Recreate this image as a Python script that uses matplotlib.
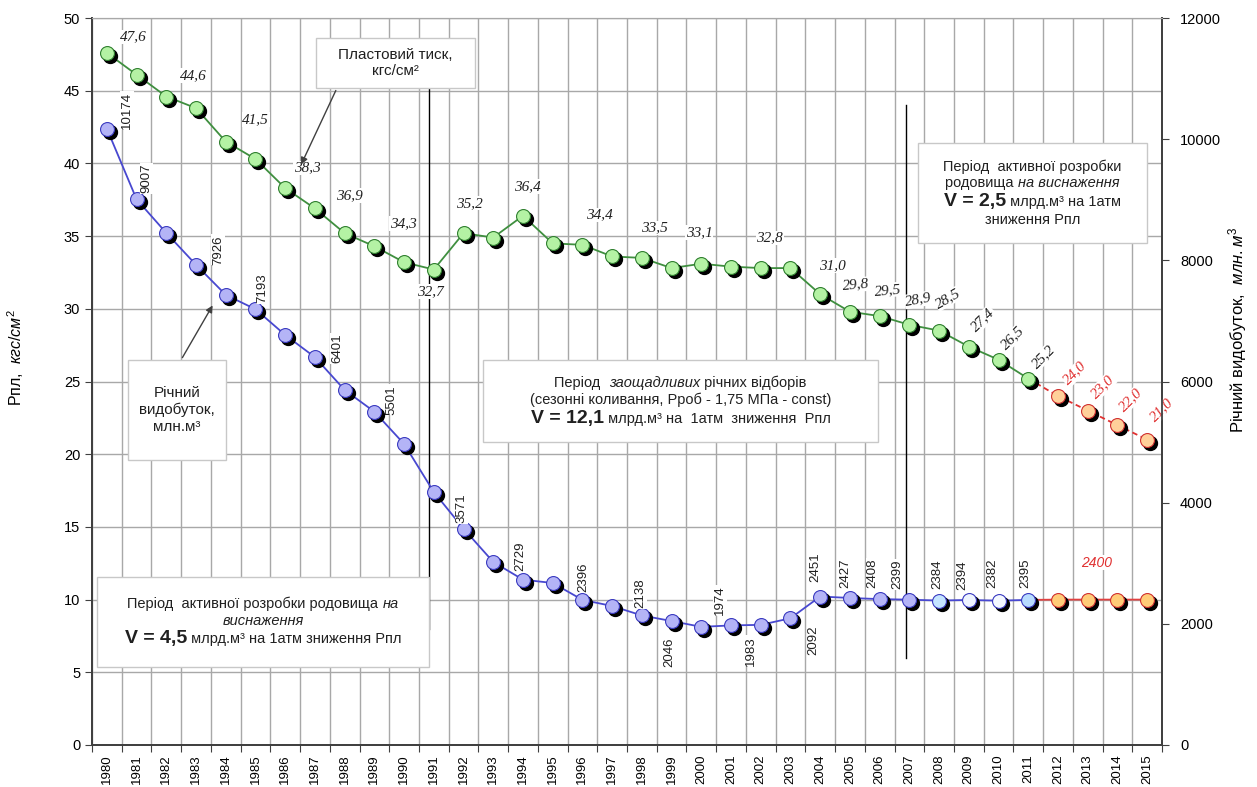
import numpy as np
import matplotlib
matplotlib.use("Agg")
import matplotlib.pyplot as plt
from matplotlib import transforms
from matplotlib.patches import Rectangle
from matplotlib.offsetbox import TextArea, HPacker, VPacker, AnnotationBbox

plt.rcParams["font.family"] = ["Liberation Sans", "DejaVu Sans"]
plt.rcParams["mathtext.fontset"] = "custom"
plt.rcParams["mathtext.rm"] = "Liberation Sans"
plt.rcParams["mathtext.it"] = "Liberation Sans:italic"
plt.rcParams["mathtext.bf"] = "Liberation Sans:bold"

# ---- data ----
years = list(range(1980, 2016))
pressure = [47.6, 46.1, 44.6, 43.8, 41.5, 40.3, 38.3, 36.9, 35.2, 34.3, 33.2, 32.7,
            35.2, 34.9, 36.4, 34.5, 34.4, 33.6, 33.5, 32.8, 33.1, 32.9, 32.8, 32.8,
            31.0, 29.8, 29.5, 28.9, 28.5, 27.4, 26.5, 25.2, 24.0, 23.0, 22.0, 21.0]
production = [10174, 9007, 8452, 7926, 7430, 7193, 6768, 6401, 5860, 5501, 4969, 4176,
              3571, 3021, 2729, 2674, 2396, 2294, 2138, 2046, 1950, 1974, 1983, 2092,
              2451, 2427, 2408, 2399, 2384, 2394, 2382, 2395, 2400, 2400, 2400, 2400]
forecast_start = 2011

# labelled points: year -> (dx, dy in pixels, rotation)
p_labels = {1980: (26, 16, 0), 1982: (27, 21, 0), 1984: (30, 22, 0), 1986: (22, 20, 0),
            1987: (34, 13, 0), 1989: (29, 23, 0), 1991: (-3, -22, 0), 1992: (6, 30, 0),
            1994: (4, 29, 0), 1996: (17, 30, 0), 1998: (13, 30, 0), 2000: (-2, 31, 0),
            2002: (9, 30, 0), 2004: (12, 29, 0), 2005: (6, 27, 5), 2006: (8, 26, 5),
            2007: (9, 25, 10), 2008: (9, 32, 30), 2009: (14, 27, 45), 2010: (14, 22, 45),
            2011: (15, 22, 45), 2012: (17, 23, 45), 2013: (15, 24, 45), 2014: (13, 25, 45),
            2015: (15, 30, 45)}
q_labels = {1980: (20, 18), 1981: (10, 21), 1983: (22, 15), 1985: (7, 21), 1987: (22, 9),
            1989: (17, 12), 1992: (-2, 20), 1994: (-3, 23), 1996: (1, 23), 1998: (-2, 22),
            1999: (-2, -31), 2001: (-11, 25), 2002: (-10, -26), 2003: (23, -22),
            2004: (-5, 29), 2005: (-5, 25), 2006: (-7, 26), 2007: (-12, 25), 2008: (-2, 26),
            2009: (-6, 25), 2010: (-6, 27), 2011: (-3, 27)}

x = np.arange(len(years))
fc = years.index(forecast_start)

fig = plt.figure(figsize=(12.57, 7.87), dpi=100)
ax = fig.add_axes([92 / 1257, 42 / 787, 1070 / 1257, 727 / 787])
ax2 = ax.twinx()

ax.set_xlim(-0.5, len(years) - 0.5)
ax.set_ylim(0, 50)
ax2.set_ylim(0, 12000)

ax.set_xticks(np.arange(-0.5, len(years), 1))
ax.set_xticklabels([])
ax.set_xticks(x, minor=True)
ax.set_xticklabels([str(y) for y in years], minor=True, rotation=90, fontsize=9.5)
ax.tick_params(axis="x", which="major", direction="out", length=5, color="#404040")
ax.tick_params(axis="x", which="minor", length=0, pad=7)
ax.set_yticks(np.arange(0, 51, 5))
ax.tick_params(axis="y", direction="out", length=5, labelsize=10.5, color="#404040")
ax2.set_yticks(np.arange(0, 12001, 2000))
ax2.tick_params(axis="y", direction="out", length=5, labelsize=10.5, color="#404040", pad=8)
ax.grid(True, which="major", color="#a8a8a8", lw=1)
ax.set_axisbelow(True)

for a in (ax, ax2):
    for s in ("left", "right", "bottom"):
        a.spines[s].set_color("#404040")
        a.spines[s].set_linewidth(1.3)
    a.spines["top"].set_color("#a8a8a8")

shadow_p = transforms.offset_copy(ax.transData, fig=fig, x=3, y=-3, units="dots")
shadow_q = transforms.offset_copy(ax2.transData, fig=fig, x=3, y=-3, units="dots")

# pressure
ax.plot(x[:fc + 1], pressure[:fc + 1], color="#3f8f3f", lw=1.3, zorder=2)
ax.plot(x[fc:], pressure[fc:], color="#e03030", lw=1.3, ls=(0, (3, 2)), zorder=2)
ax.plot(x, pressure, "o", ms=10, color="black", transform=shadow_p, zorder=3)
ax.plot(x[:fc + 1], pressure[:fc + 1], "o", ms=10, mfc="#b4f2a4", mec="#2f7f2f", mew=0.8, zorder=4)
ax.plot(x[fc + 1:], pressure[fc + 1:], "o", ms=10, mfc="#ffd09a", mec="#d03030", mew=0.8, zorder=4)

# production
q_colors = ["#b4b4f6"] * 28 + ["#c4e4ff", "#eef4ff", "#f4f8ff", "#b8dcff"] + ["#ffcc78"] * 4
ax2.plot(x[:fc + 1], production[:fc + 1], color="#4848d0", lw=1.3, zorder=2)
ax2.plot(x[fc:], production[fc:], color="#e04040", lw=1.3, zorder=2)
ax2.plot(x, production, "o", ms=10, color="black", transform=shadow_q, zorder=3)
for xi, qi, c in zip(x, production, q_colors):
    ec = "#d03030" if xi > fc else "#3a3ac0"
    ax2.plot(xi, qi, "o", ms=10, mfc=c, mec=ec, mew=0.8, zorder=4)

for yr, (dx, dy, rot) in p_labels.items():
    i = years.index(yr)
    col = "#e03030" if i > fc else "#202020"
    ax.annotate(f"{pressure[i]:.1f}".replace(".", ","), (i, pressure[i]), xytext=(dx, dy),
                textcoords="offset pixels", ha="center", va="center", rotation=rot,
                fontsize=11, color=col, family="Liberation Serif", style="italic",
                bbox=dict(fc="white", ec="none", pad=0.5), zorder=5)

for yr, (dx, dy) in q_labels.items():
    i = years.index(yr)
    ax2.annotate(str(production[i]), (i, production[i]), xytext=(dx, dy),
                 textcoords="offset pixels", ha="center", va="center", rotation=90,
                 fontsize=9.5, color="#202020",
                 bbox=dict(fc="white", ec="none", pad=0.5), zorder=5)
ax2.annotate("2400", (years.index(2013), 2400), xytext=(9, 37), textcoords="offset pixels",
             ha="center", va="center", fontsize=10, color="#e03030", style="italic",
             bbox=dict(fc="white", ec="none", pad=0.5), zorder=5)

# period separators
ax.plot([10.84, 10.84], [8.0, 45.1], color="black", lw=1, zorder=2)
ax.plot([26.89, 26.89], [6.0, 44.0], color="black", lw=1, zorder=2)


def at(px, py):
    return ((px - 92) / 1070, (745 - py) / 727)


def note(rect, lines, sep=2):
    (x0, y0), (x1, y1) = at(rect[0], rect[3]), at(rect[2], rect[1])
    ax2.add_patch(Rectangle((x0, y0), x1 - x0, y1 - y0, transform=ax2.transAxes,
                            fc="white", ec="#c8c8c8", lw=1, zorder=6))
    rows = []
    for line in lines:
        parts = [TextArea(s, textprops=dict(fontsize=fs, fontweight=w, fontstyle=st, color="#202020"))
                 for s, fs, w, st in line]
        rows.append(HPacker(children=parts, align="baseline", pad=0, sep=0))
    box = VPacker(children=rows, align="center", pad=0, sep=sep)
    ab = AnnotationBbox(box, ((x0 + x1) / 2, (y0 + y1) / 2), xycoords=ax2.transAxes,
                        frameon=False, zorder=7)
    ax2.add_artist(ab)


n, b, i_ = "normal", "bold", "italic"
note((316, 38, 475, 88), [[("Пластовий тиск,", 11, n, n)], [("кгс/см²", 11, n, n)]])
note((128, 360, 226, 460), [[("Річний", 11, n, n)], [("видобуток,", 11, n, n)],
                            [("млн.м³", 11, n, n)]])
note((97, 577, 429, 667), [[("Період  активної розробки родовища ", 10.5, n, n), ("на", 10.5, n, i_)],
                           [("виснаження", 10.5, n, i_)],
                           [("V = 4,5", 14, b, n), (" млрд.м³ на 1атм зниження Рпл", 10.5, n, n)]])
note((483, 360, 878, 442), [[("Період  ", 10.5, n, n), ("заощадливих", 10.5, n, i_),
                             (" річних відборів", 10.5, n, n)],
                            [("(сезонні коливання, Рроб - 1,75 МПа - const)", 10.5, n, n)],
                            [("V = 12,1", 14, b, n), (" млрд.м³ на  1атм  зниження  Рпл", 10.5, n, n)]])
note((918, 143, 1147, 243), [[("Період  активної розробки", 10.5, n, n)],
                             [("родовища ", 10.5, n, n), ("на виснаження", 10.5, n, i_)],
                             [("V = 2,5", 14, b, n), (" млрд.м³ на 1атм", 10.5, n, n)],
                             [("зниження Рпл", 10.5, n, n)]])

ax2.annotate("", xy=at(300, 167), xytext=at(337, 88), xycoords=ax2.transAxes,
             arrowprops=dict(arrowstyle="-|>", color="#404040", lw=1, mutation_scale=10), zorder=8)
ax2.annotate("", xy=at(214, 303), xytext=at(181, 360), xycoords=ax2.transAxes,
             arrowprops=dict(arrowstyle="-|>", color="#404040", lw=1, mutation_scale=10), zorder=8)

fig.text(16 / 1257, 1 - 357 / 787, r"Рпл,  $\mathit{кгс/см^2}$", rotation=90,
         ha="center", va="center", fontsize=11.5)
fig.text(1238 / 1257, 1 - 330 / 787, r"Річний видобуток,  $\mathit{млн.м^3}$", rotation=90,
         ha="center", va="center", fontsize=12)

fig.savefig("out.png", dpi=100)
